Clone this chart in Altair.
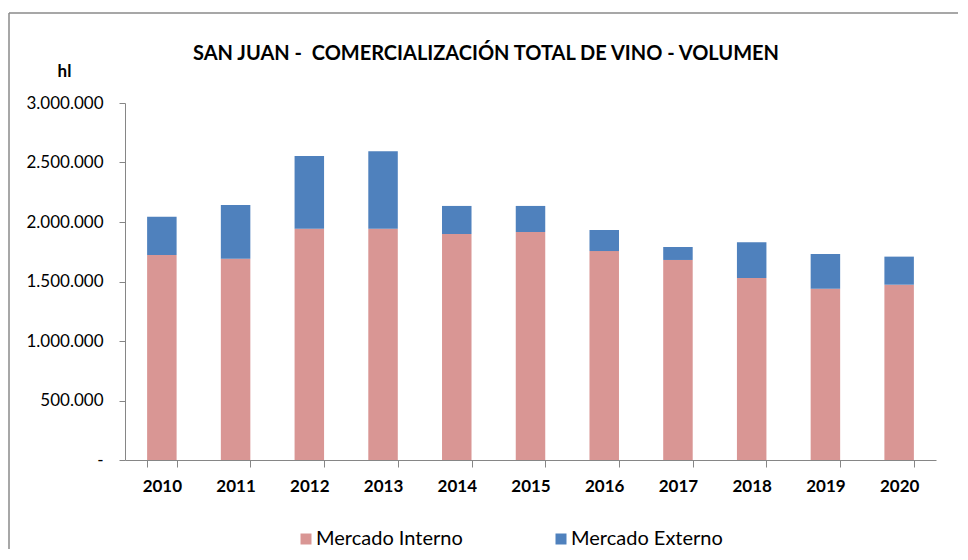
import altair as alt
import pandas as pd

years = ["2010", "2011", "2012", "2013", "2014", "2015", "2016", "2017", "2018", "2019", "2020"]
mercado_interno = [1722000, 1692000, 1944000, 1943000, 1899000, 1916000, 1756000, 1681000, 1529000, 1440000, 1473000]
mercado_externo = [322000, 451000, 611000, 651000, 236000, 219000, 177000, 109000, 300000, 291000, 236000]
series = ["Mercado Interno", "Mercado Externo"]
colors = ["#D99694", "#4F81BD"]
y_ticks = [0, 500000, 1000000, 1500000, 2000000, 2500000, 3000000]
title_text = "SAN JUAN - \u00a0COMERCIALIZACIÓN TOTAL DE VINO - VOLUMEN"

rows = []
for i, y in enumerate(years):
    rows.append({"year": y, "serie": series[0], "value": mercado_interno[i], "ord": 0})
    rows.append({"year": y, "serie": series[1], "value": mercado_externo[i], "ord": 1})
df = pd.DataFrame(rows)

FONT = "Lato"
AX = "#868686"

bars = alt.Chart(df).mark_bar().encode(
    x=alt.X("year:N", sort=years,
            scale=alt.Scale(paddingInner=0.6, paddingOuter=0.3),
            axis=alt.Axis(title=None, labelAngle=0, labelFont=FONT, labelFontSize=17,
                          labelFontWeight="bold", labelColor="black", tickBand="extent",
                          tickSize=7, tickColor=AX, domainColor=AX, labelPadding=11,
                          labelBaseline="top")),
    y=alt.Y("value:Q", stack="zero",
            scale=alt.Scale(domain=[0, 3000000], nice=False),
            axis=alt.Axis(values=y_ticks, format=",.0f",
                          labelExpr="datum.value == 0 ? '-' : datum.label",
                          grid=False, tickSize=6, tickColor=AX, domainColor=AX,
                          labelFont=FONT, labelFontSize=17, labelColor="black",
                          labelPadding=16,
                          title="hl", titleAngle=0, titleX=-61, titleY=-32,
                          titleAlign="center", titleBaseline="middle",
                          titleFont=FONT, titleFontSize=17, titleFontWeight="bold",
                          titleColor="black")),
    color=alt.Color("serie:N", scale=alt.Scale(domain=series, range=colors),
                    legend=alt.Legend(title=None, orient="none", legendX=171, legendY=426,
                                      direction="horizontal", symbolType="square",
                                      symbolSize=121, symbolStrokeWidth=0,
                                      labelFont=FONT, labelFontSize=20, labelColor="black",
                                      labelOffset=0, columnPadding=88, labelLimit=300)),
    order=alt.Order("ord:Q"),
)

frame_df = pd.DataFrame({"a": [0]})
frame_top = alt.Chart(frame_df).mark_rule(stroke="#8a8a8a", strokeWidth=1.5).encode(
    x=alt.value(-116), x2=alt.value(833), y=alt.value(-90), y2=alt.value(-90)
)
frame_left = alt.Chart(frame_df).mark_rule(stroke="#8a8a8a", strokeWidth=1.5).encode(
    x=alt.value(-116), x2=alt.value(-116), y=alt.value(-90), y2=alt.value(446)
)

title = alt.Chart(pd.DataFrame({"t": [title_text]})).mark_text(
    font=FONT, fontSize=20, fontWeight="bold", color="black",
    align="center", baseline="alphabetic"
).encode(text="t:N", x=alt.value(361), y=alt.value(-43))

chart = alt.layer(frame_top, frame_left, title, bars).properties(
    width=811, height=357,
    padding={"left": 0, "top": 4, "right": 0, "bottom": 0},
    autosize=alt.AutoSizeParams(type="pad"),
).configure(
    view=alt.ViewConfig(stroke=None),
    locale={"number": {"decimal": ",", "thousands": ".", "grouping": [3], "currency": ["$", ""]}},
)

chart.save("out.html", embed_options={"renderer": "svg", "actions": False})
